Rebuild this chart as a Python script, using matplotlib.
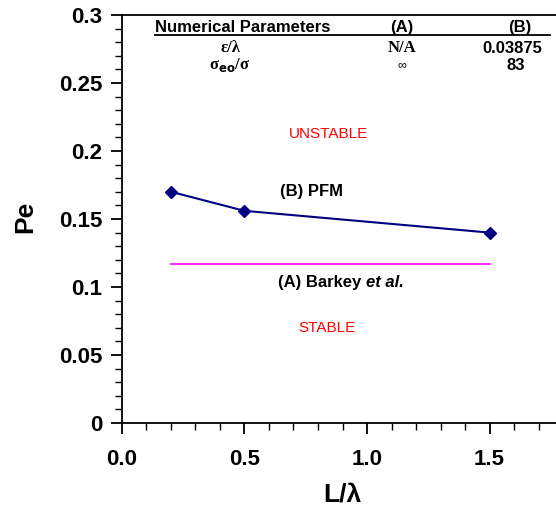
import matplotlib.pyplot as plt
from matplotlib.ticker import MultipleLocator, FixedLocator

plt.rcParams['font.family'] = ['Liberation Sans', 'DejaVu Sans']

# (B) PFM results
pfm_x = [0.2, 0.5, 1.5]
pfm_y = [0.170, 0.156, 0.140]
# (A) Barkey et al. threshold
barkey_x = [0.2, 1.5]
barkey_y = [0.117, 0.117]

y_ticks = [0, 0.05, 0.1, 0.15, 0.2, 0.25, 0.3]
y_labels = ['0', '0.05', '0.1', '0.15', '0.2', '0.25', '0.3']
x_ticks = [0.0, 0.5, 1.0, 1.5]
x_labels = ['0.0', '0.5', '1.0', '1.5']

fig = plt.figure(figsize=(5.56, 5.13), dpi=100)
ax = fig.add_axes([0.2194, 0.1754, 0.78, 0.7954])

ax.plot(barkey_x, barkey_y, color='#ff00ff', lw=1.2)
ax.plot(pfm_x, pfm_y, color='#000080', lw=1.5, marker='D', ms=6)

ax.set_xlim(0, 1.77)
ax.set_ylim(0, 0.3)
ax.yaxis.set_major_locator(FixedLocator(y_ticks))
ax.set_yticklabels(y_labels)
ax.xaxis.set_major_locator(FixedLocator(x_ticks))
ax.set_xticklabels(x_labels)
ax.xaxis.set_minor_locator(MultipleLocator(0.1))
ax.yaxis.set_minor_locator(MultipleLocator(0.01))

ax.spines['right'].set_visible(False)
for s in ['left', 'bottom', 'top']:
    ax.spines[s].set_linewidth(1.3)

ax.tick_params(axis='both', which='major', direction='out', length=8, width=1.3,
               labelsize=16)
ax.tick_params(axis='both', which='minor', direction='out', length=5, width=1.0)
ax.tick_params(axis='x', pad=11)
ax.tick_params(axis='y', pad=6)
for lab in ax.get_xticklabels() + ax.get_yticklabels():
    lab.set_fontweight('bold')

ax.set_xlabel('L/λ', fontsize=19, fontweight='bold', va='center')
ax.xaxis.set_label_coords(0.507, -0.176)
ax.set_ylabel('Pe', fontsize=19, fontweight='bold', va='center')
ax.yaxis.set_label_coords(-0.224, 0.505)

# parameter table
serif = ['Liberation Serif', 'DejaVu Serif']
tb = dict(fontsize=12, fontweight='bold', ha='center', va='center')
ax.text(0.135, 0.2905, 'Numerical Parameters', **{**tb, 'ha': 'left'})
ax.text(1.143, 0.2905, '(A)', **tb)
ax.text(1.624, 0.2905, '(B)', **tb)
ax.plot([0.135, 1.747], [0.2853, 0.2853], color='black', lw=1.3)
ax.text(0.441, 0.2757, 'ε/λ', family=serif, **tb)
ax.text(1.143, 0.2757, 'N/A', family=serif, **tb)
ax.text(1.592, 0.2757, '0.03875', **tb)
ax.text(0.441, 0.2632, r'σ$_{\mathbf{eo}}$/σ', family=serif, **tb)
ax.text(1.143, 0.2632, '∞', fontsize=9, ha='center', va='center')
ax.text(1.608, 0.2632, '83', **tb)

ax.text(0.841, 0.2125, 'UNSTABLE', color='red', fontsize=11, ha='center', va='center')
ax.text(0.772, 0.170, '(B) PFM', fontsize=12, fontweight='bold', ha='center', va='center')
t1 = ax.text(0.637, 0.103, '(A) Barkey ', fontsize=12, fontweight='bold',
             ha='left', va='center')
ax.annotate('et al.', xy=(1, 0.5), xycoords=t1, fontsize=12, fontweight='bold',
            style='italic', ha='left', va='center')
ax.text(0.837, 0.0695, 'STABLE', color='red', fontsize=11, ha='center', va='center')

fig.savefig('out.png', dpi=100)
